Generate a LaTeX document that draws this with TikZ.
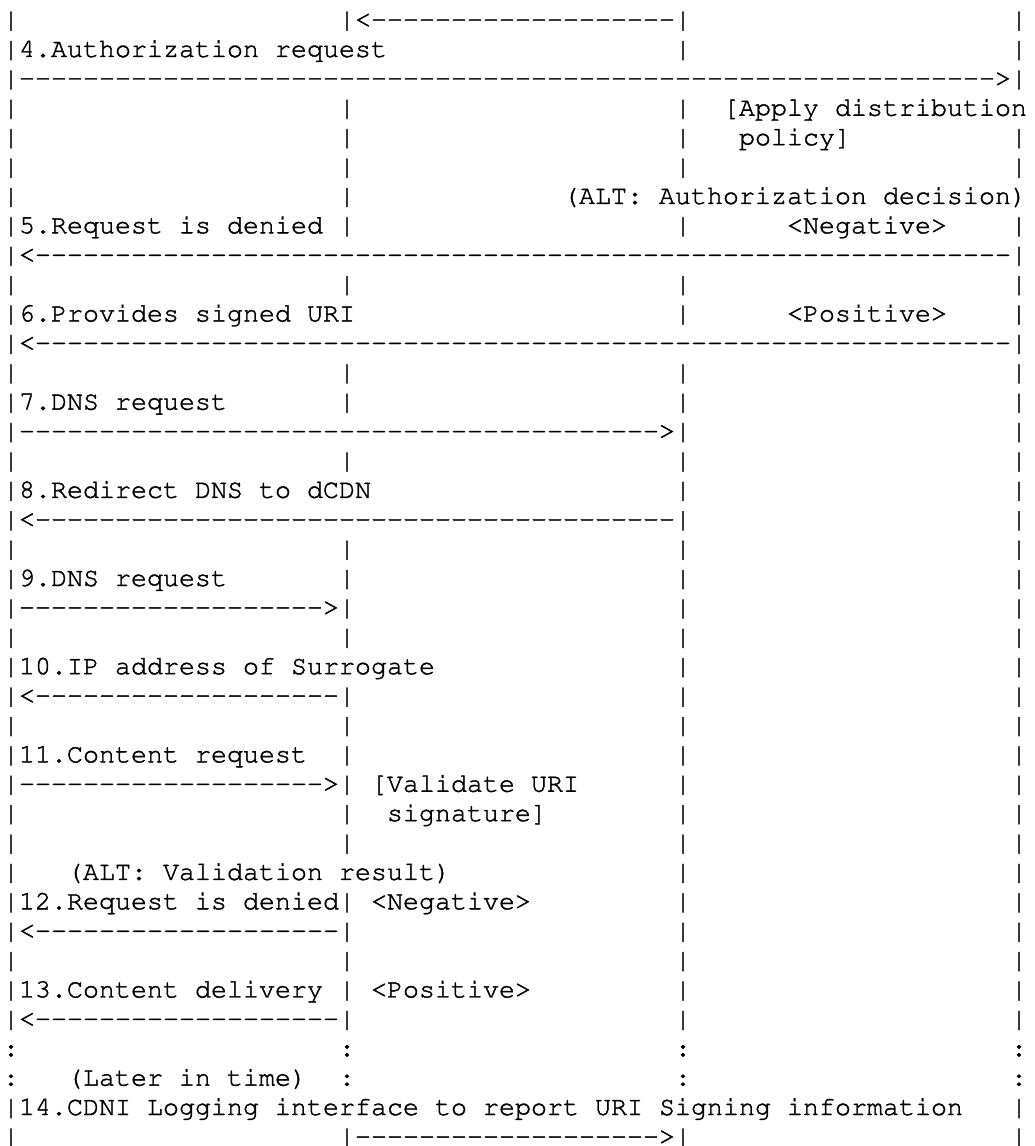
\documentclass[tikz,border=0pt]{standalone}
\usepackage[T1,TU]{fontenc}
\ExplSyntaxOn
\cs_new:Npn \dashes #1 { \prg_replicate:nn {#1} {-{}} }
\ExplSyntaxOff
\newcommand\SP[1]{\kern#1\fontcharwd\font`\|\relax}
\newcommand\courierfont{\fontencoding{T1}\fontfamily{pcr}\fontseries{m}\fontshape{n}\fontsize{20pt}{24pt}\selectfont}
\tikzset{rowtxt/.style={anchor=base west, inner sep=0pt, outer sep=0pt,
  font=\courierfont, text=black}}
\newcommand\row[2]{\node[rowtxt] (r#1) at (3,{27.6+(#1-1)*29.39}) {\special{pdf:literal direct 2 Tr 0.3 w}#2};}
\begin{document}
\begin{tikzpicture}[x=0.75pt,y=-0.75pt]
\useasboundingbox (0,0) rectangle (1035,1146);
\row{1}{|\SP{20}|<\dashes{19}|\SP{20}|}
\row{2}{|4.Authorization request\SP{18}|\SP{20}|}
\row{3}{|\dashes{61}>|}
\row{4}{|\SP{20}|\SP{20}|\SP{2}[Apply distribution}
\row{5}{|\SP{20}|\SP{20}|\SP{3}policy]\SP{10}|}
\row{6}{|\SP{20}|\SP{20}|\SP{20}|}
\row{7}{|\SP{20}|\SP{13}(ALT: Authorization decision)}
\row{8}{|5.Request is denied\SP{1}|\SP{20}|\SP{6}<Negative>\SP{4}|}
\row{9}{|<\dashes{61}|}
\row{10}{|\SP{20}|\SP{20}|\SP{20}|}
\row{11}{|6.Provides signed URI\SP{20}|\SP{6}<Positive>\SP{4}|}
\row{12}{|<\dashes{61}|}
\row{13}{|\SP{20}|\SP{20}|\SP{20}|}
\row{14}{|7.DNS request\SP{7}|\SP{20}|\SP{20}|}
\row{15}{|\dashes{40}>|\SP{20}|}
\row{16}{|\SP{20}|\SP{20}|\SP{20}|}
\row{17}{|8.Redirect DNS to dCDN\SP{19}|\SP{20}|}
\row{18}{|<\dashes{40}|\SP{20}|}
\row{19}{|\SP{20}|\SP{20}|\SP{20}|}
\row{20}{|9.DNS request\SP{7}|\SP{20}|\SP{20}|}
\row{21}{|\dashes{19}>|\SP{20}|\SP{20}|}
\row{22}{|\SP{20}|\SP{20}|\SP{20}|}
\row{23}{|10.IP address of Surrogate\SP{15}|\SP{20}|}
\row{24}{|<\dashes{19}|\SP{20}|\SP{20}|}
\row{25}{|\SP{20}|\SP{20}|\SP{20}|}
\row{26}{|11.Content request\SP{2}|\SP{20}|\SP{20}|}
\row{27}{|\dashes{19}>|\SP{1}[Validate URI\SP{6}|\SP{20}|}
\row{28}{|\SP{20}|\SP{2}signature]\SP{8}|\SP{20}|}
\row{29}{|\SP{20}|\SP{20}|\SP{20}|}
\row{30}{|\SP{3}(ALT: Validation result)\SP{14}|\SP{20}|}
\row{31}{|12.Request is denied|\SP{1}<Negative>\SP{9}|\SP{20}|}
\row{32}{|<\dashes{19}|\SP{20}|\SP{20}|}
\row{33}{|\SP{20}|\SP{20}|\SP{20}|}
\row{34}{|13.Content delivery\SP{1}|\SP{1}<Positive>\SP{9}|\SP{20}|}
\row{35}{|<\dashes{19}|\SP{20}|\SP{20}|}
\row{36}{:\SP{20}:\SP{20}:\SP{20}:}
\row{37}{:\SP{3}(Later in time)\SP{2}:\SP{20}:\SP{20}:}
\row{38}{|14.CDNI Logging interface to report URI Signing information\SP{3}|}
\row{39}{|\SP{20}|\dashes{19}>|\SP{20}|}
\end{tikzpicture}
\end{document}
